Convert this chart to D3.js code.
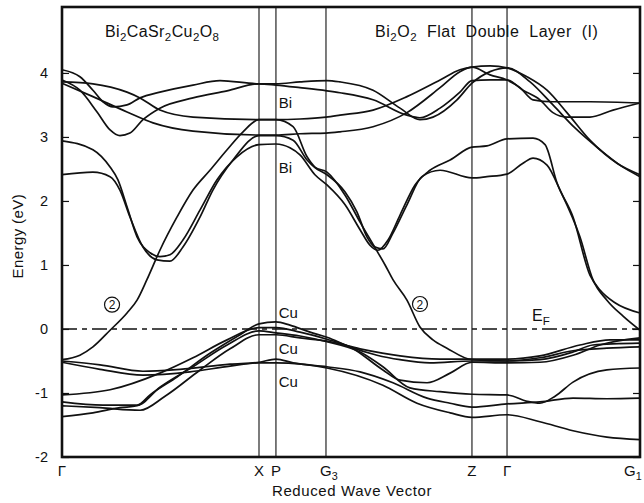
<!DOCTYPE html>
<html>
<head>
<meta charset="utf-8">
<script src="https://cdn.jsdelivr.net/npm/d3@7"></script>
<style>
body { margin: 0; background: #fff; }
text { font-family: "Liberation Sans", Arial, sans-serif; fill: #111; }
</style>
</head>
<body>
<div id="chart"></div>
<script>
// high symmetry points along the path (units of the Gamma-X distance)
var kLabels = [["Γ"], ["X"], ["P"], ["G", "3"], ["Z"], ["Γ"], ["G", "1"]];
var kPoints = [0, 1.0, 1.086, 1.340, 2.081, 2.259, 2.934];
var energyTicks = [-2, -1, 0, 1, 2, 3, 4];

// bands: [k, energy (eV)]
var bandA = [[0,4.05],[0.091,3.94],[0.157,3.73],[0.208,3.55],[0.259,3.47],[0.330,3.50],[0.396,3.61],[0.497,3.70],[0.665,3.81],[0.802,3.88],[1.0,3.83],[1.086,3.83],[1.208,3.86],[1.345,3.88],[1.411,3.86],[1.579,3.73],[1.716,3.45],[1.817,3.27],[1.883,3.31],[2.005,3.58],[2.081,3.84],[2.173,4.02],[2.259,4.08],[2.376,3.86],[2.492,3.50],[2.604,3.14],[2.731,2.80],[2.832,2.56],[2.934,2.38]];
var bandB = [[0,3.89],[0.091,3.73],[0.178,3.39],[0.244,3.11],[0.294,3.02],[0.345,3.06],[0.411,3.27],[0.497,3.45],[0.665,3.61],[0.838,3.72],[1.0,3.83],[1.086,3.81],[1.208,3.77],[1.345,3.72],[1.411,3.69],[1.579,3.58],[1.751,3.34],[1.817,3.30],[1.919,3.45],[2.020,3.70],[2.081,3.88],[2.173,3.89],[2.259,3.89],[2.340,3.73],[2.426,3.58],[2.492,3.38],[2.563,3.31],[2.680,3.31],[2.797,3.42],[2.934,3.53]];
var bandC = [[0,3.86],[0.157,3.83],[0.330,3.70],[0.396,3.61],[0.497,3.42],[0.665,3.31],[1.0,3.27],[1.086,3.27],[1.208,3.28],[1.340,3.31],[1.411,3.34],[1.579,3.42],[1.751,3.63],[1.919,3.89],[2.020,4.05],[2.081,4.09],[2.173,4.11],[2.259,4.08],[2.360,3.94],[2.462,3.73],[2.563,3.38],[2.680,2.95],[2.817,2.59],[2.934,2.41]];
var bandD = [[0,3.84],[0.157,3.63],[0.330,3.39],[0.462,3.22],[0.665,3.09],[1.0,3.03],[1.086,3.03],[1.208,3.05],[1.340,3.06],[1.411,3.08],[1.579,3.16],[1.751,3.38],[1.919,3.77],[2.020,4.02],[2.081,4.09],[2.173,3.97],[2.259,3.89],[2.325,3.77],[2.391,3.58],[2.492,3.55],[2.680,3.55],[2.934,3.53]];
var bandE = [[0,2.94],[0.157,2.80],[0.244,2.53],[0.284,2.33],[0.330,1.91],[0.381,1.44],[0.447,1.19],[0.497,1.13],[0.548,1.16],[0.614,1.39],[0.701,1.86],[0.787,2.33],[0.888,2.69],[1.0,2.88],[1.086,2.89],[1.157,2.83],[1.208,2.72],[1.284,2.41],[1.345,2.25],[1.437,1.94],[1.513,1.55],[1.563,1.31],[1.604,1.23],[1.655,1.39],[1.716,1.78],[1.792,2.25],[1.868,2.48],[1.970,2.64],[2.081,2.84],[2.157,2.86],[2.259,2.97],[2.391,2.98],[2.452,2.88],[2.513,2.28],[2.594,1.75],[2.680,0.84],[2.731,0.61],[2.807,0.41],[2.934,0.25]];
var bandF = [[0,2.41],[0.157,2.45],[0.244,2.38],[0.294,2.17],[0.345,1.75],[0.411,1.28],[0.482,1.08],[0.548,1.06],[0.614,1.28],[0.701,1.75],[0.766,2.17],[0.868,2.64],[1.0,3.02],[1.086,3.02],[1.173,2.95],[1.244,2.64],[1.284,2.52],[1.345,2.41],[1.437,2.14],[1.497,1.83],[1.548,1.44],[1.589,1.28],[1.629,1.25],[1.680,1.50],[1.751,1.94],[1.827,2.38],[1.919,2.48],[2.081,2.36],[2.157,2.38],[2.259,2.42],[2.340,2.59],[2.391,2.67],[2.462,2.56],[2.528,2.17],[2.629,1.44],[2.695,0.77],[2.766,0.45],[2.848,0.20],[2.934,-0.02]];
var band2 = [[0,-0.48],[0.091,-0.41],[0.157,-0.28],[0.244,-0.02],[0.330,0.25],[0.381,0.45],[0.431,0.77],[0.497,1.23],[0.584,1.75],[0.665,2.17],[0.751,2.48],[0.838,2.80],[0.919,3.08],[1.0,3.27],[1.086,3.27],[1.173,3.16],[1.244,2.69],[1.284,2.53],[1.345,2.45],[1.437,2.09],[1.513,1.67],[1.589,1.27],[1.640,1.00],[1.680,0.77],[1.751,0.45],[1.817,0.03],[1.883,-0.17],[1.954,-0.30],[2.081,-0.48],[2.259,-0.50],[2.426,-0.45],[2.594,-0.34],[2.766,-0.30],[2.934,-0.28]];
var bandG = [[0,-1.37],[0.157,-1.31],[0.294,-1.23],[0.381,-1.20],[0.447,-1.03],[0.584,-0.75],[0.751,-0.38],[0.904,-0.09],[1.0,0.08],[1.086,0.11],[1.157,0.06],[1.259,-0.05],[1.345,-0.13],[1.462,-0.28],[1.599,-0.41],[1.716,-0.48],[1.868,-0.53],[2.081,-0.50],[2.259,-0.50],[2.426,-0.48],[2.594,-0.36],[2.695,-0.25],[2.934,-0.22]];
var bandH = [[0,-1.03],[0.244,-0.95],[0.497,-0.69],[0.665,-0.45],[0.838,-0.17],[1.0,0.02],[1.086,0.02],[1.208,-0.05],[1.345,-0.16],[1.462,-0.28],[1.629,-0.64],[1.716,-0.80],[1.853,-0.84],[1.970,-0.69],[2.081,-0.52],[2.259,-0.53],[2.426,-0.52],[2.594,-0.41],[2.731,-0.25],[2.934,-0.14]];
var bandI = [[0,-1.14],[0.208,-1.19],[0.381,-1.19],[0.497,-0.91],[0.665,-0.59],[0.838,-0.25],[1.0,-0.03],[1.086,-0.06],[1.208,-0.11],[1.345,-0.20],[1.513,-0.36],[1.629,-0.59],[1.766,-0.92],[1.919,-0.98],[2.081,-1.02],[2.259,-1.03],[2.360,-1.13],[2.426,-1.16],[2.503,-1.05],[2.594,-0.83],[2.766,-0.64],[2.934,-0.61]];
var bandJ = [[0,-1.20],[0.193,-1.23],[0.396,-1.27],[0.523,-1.05],[0.701,-0.64],[0.853,-0.31],[1.0,-0.09],[1.086,-0.09],[1.208,-0.14],[1.345,-0.19],[1.513,-0.31],[1.716,-0.42],[1.919,-0.47],[2.081,-0.47],[2.259,-0.47],[2.426,-0.42],[2.629,-0.25],[2.782,-0.17],[2.934,-0.17]];
var bandK = [[0,-0.50],[0.193,-0.56],[0.411,-0.66],[0.599,-0.63],[0.853,-0.55],[1.0,-0.52],[1.086,-0.47],[1.173,-0.53],[1.345,-0.59],[1.513,-0.67],[1.680,-0.84],[1.853,-1.08],[1.970,-1.16],[2.081,-1.22],[2.259,-1.17],[2.426,-1.14],[2.594,-1.08],[2.766,-1.09],[2.934,-1.08]];
var bandL = [[0,-0.52],[0.193,-0.63],[0.411,-0.72],[0.650,-0.67],[0.853,-0.58],[1.0,-0.53],[1.086,-0.53],[1.345,-0.61],[1.629,-0.88],[1.802,-1.16],[1.970,-1.31],[2.081,-1.38],[2.259,-1.34],[2.426,-1.45],[2.594,-1.59],[2.766,-1.69],[2.934,-1.73]];

var bands = [bandA, bandB, bandC, bandD, bandE, bandF, band2, bandG, bandH, bandI, bandJ, bandK, bandL];

var width = 644, height = 503;
var margin = {top: 7, right: 4, bottom: 46, left: 62};

var svg = d3.select("#chart").append("svg")
  .attr("width", width)
  .attr("height", height);

var x = d3.scaleLinear().domain([0, 2.934]).range([margin.left, width - margin.right]);
var y = d3.scaleLinear().domain([-2, 5.03]).range([height - margin.bottom, margin.top]);

// writes text pieces, the odd ones as subscripts
function richText(sel, parts, size) {
  parts.forEach(function(p, i) {
    if (i % 2 === 0) {
      sel.append("tspan").text(p).attr("dy", i === 0 ? 0 : -4).attr("font-size", size);
    } else {
      sel.append("tspan").text(p).attr("dy", 4).attr("font-size", size * 0.72);
    }
  });
  return sel;
}

// vertical lines at symmetry points
svg.append("g").selectAll("line")
  .data(kPoints.slice(1, 6))
  .join("line")
  .attr("x1", function(d) { return x(d); })
  .attr("x2", function(d) { return x(d); })
  .attr("y1", y.range()[1])
  .attr("y2", y.range()[0])
  .attr("stroke", "#111")
  .attr("stroke-width", 1.1);

// Fermi level
svg.append("line")
  .attr("x1", x(0)).attr("x2", x(2.934))
  .attr("y1", y(0)).attr("y2", y(0))
  .attr("stroke", "#111")
  .attr("stroke-width", 1.3)
  .attr("stroke-dasharray", "15,5,5,5");

var line = d3.line()
  .x(function(d) { return x(d[0]); })
  .y(function(d) { return y(d[1]); })
  .curve(d3.curveMonotoneX);

svg.append("g").selectAll("path")
  .data(bands)
  .join("path")
  .attr("d", line)
  .attr("fill", "none")
  .attr("stroke", "#111")
  .attr("stroke-width", 1.7);

// axes with inward ticks
var yAxisL = svg.append("g")
  .attr("transform", "translate(" + margin.left + ",0)")
  .call(d3.axisLeft(y).tickValues(energyTicks).tickSize(-7).tickPadding(14)
    .tickFormat(function(d) { return String(d); }));
yAxisL.select(".domain").remove();
yAxisL.selectAll("text").attr("font-size", 14.5).attr("fill", "#111")
  .attr("font-family", "Liberation Sans, Arial, sans-serif");
yAxisL.selectAll("line").attr("stroke", "#111").attr("stroke-width", 1.2);

var yAxisR = svg.append("g")
  .attr("transform", "translate(" + (width - margin.right) + ",0)")
  .call(d3.axisRight(y).tickValues(energyTicks).tickSize(-7).tickFormat(""));
yAxisR.select(".domain").remove();
yAxisR.selectAll("line").attr("stroke", "#111").attr("stroke-width", 1.2);

// frame
svg.append("rect")
  .attr("x", x(0)).attr("y", y(5.03))
  .attr("width", x(2.934) - x(0))
  .attr("height", y(-2) - y(5.03))
  .attr("fill", "none")
  .attr("stroke", "#111")
  .attr("stroke-width", 2.6);

// k point labels
kLabels.forEach(function(lab, i) {
  var t = svg.append("text")
    .attr("x", x(kPoints[i]) - (lab.length > 1 ? 6 : 0))
    .attr("y", height - margin.bottom + 19)
    .attr("text-anchor", lab.length > 1 ? "start" : "middle");
  if (i === kLabels.length - 1) t.attr("x", x(kPoints[i]) - 16);
  richText(t, lab, 15);
});

svg.append("text")
  .attr("x", 352).attr("y", height - 7)
  .attr("text-anchor", "middle")
  .attr("font-size", 15)
  .attr("letter-spacing", 0.6)
  .text("Reduced Wave Vector");

svg.append("text")
  .attr("transform", "translate(23," + y(1.45) + ") rotate(-90)")
  .attr("text-anchor", "middle")
  .attr("font-size", 15)
  .attr("letter-spacing", 0.4)
  .text("Energy (eV)");

// titles
richText(svg.append("text").attr("x", x(0.218)).attr("y", y(4.56))
  .attr("letter-spacing", 0.4),
  ["Bi", "2", "CaSr", "2", "Cu", "2", "O", "8"], 16);
richText(svg.append("text").attr("x", x(1.589)).attr("y", y(4.56))
  .attr("letter-spacing", 0.5).attr("word-spacing", 5),
  ["Bi", "2", "O", "2", " Flat Double Layer (I)"], 16);

// band labels
var bandNotes = [["Bi", 3.45], ["Bi", 2.44], ["Cu", 0.17], ["Cu", -0.39], ["Cu", -0.91]];
svg.append("g").selectAll("text")
  .data(bandNotes)
  .join("text")
  .attr("x", x(1.100))
  .attr("y", function(d) { return y(d[1]); })
  .attr("font-size", 15)
  .text(function(d) { return d[0]; });

richText(svg.append("text").attr("x", x(2.386)).attr("y", y(0.12)),
  ["E", "F"], 16);

// circled band number
[[0.254, 0.38], [1.817, 0.39]].forEach(function(p) {
  var g = svg.append("g").attr("transform", "translate(" + x(p[0]) + "," + y(p[1]) + ")");
  g.append("circle").attr("r", 7.5).attr("fill", "none").attr("stroke", "#111").attr("stroke-width", 1.2);
  g.append("text").attr("text-anchor", "middle").attr("dy", 4.5).attr("font-size", 12).text("2");
});
</script>
</body>
</html>
